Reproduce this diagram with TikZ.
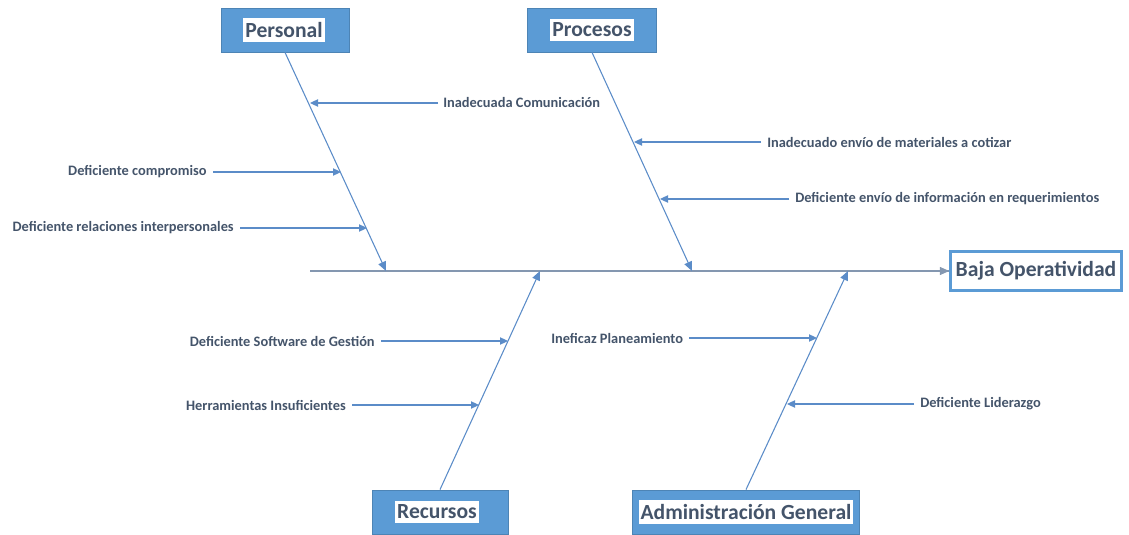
\documentclass[tikz,border=0pt]{standalone}
\usepackage{fontspec}
\setmainfont{Carlito}
\usetikzlibrary{arrows.meta,calc}
\definecolor{boxblue}{HTML}{5B9BD5}
\definecolor{lineblue}{HTML}{5B8CC8}
\definecolor{spinegray}{HTML}{8497B0}
\definecolor{txtblue}{HTML}{44546A}
\tikzset{
  catbox/.style={fill=boxblue, draw=boxblue!85!black, line width=0.6pt, minimum height=33pt, inner sep=0pt},
  cattext/.style={fill=white, text=txtblue, font=\bfseries\fontsize{16.2}{18}\selectfont, inner xsep=1.5pt, inner ysep=3pt},
  effect/.style={fill=white, draw=boxblue, line width=2.2pt, text=txtblue, font=\bfseries\fontsize{16.2}{18}\selectfont, minimum height=29pt, minimum width=128pt, inner xsep=1pt},
  lbl/.style={text=txtblue, font=\bfseries\fontsize{10.8}{12}\selectfont, inner sep=0pt},
  bone/.style={draw=lineblue, line width=0.8pt, -{Triangle[length=7pt,width=6pt]}},
  sub/.style={draw=lineblue, line width=0.8pt, -{Triangle[length=6pt,width=5.5pt]}},
  spine/.style={draw=spinegray, line width=1.6pt},
}
\begin{document}
\begin{tikzpicture}[x=0.75pt,y=-0.75pt]
\useasboundingbox (0,0) rectangle (1129,535);

% category boxes
\node[catbox, minimum width=96pt] (personal) at (285,30) {};
\node[cattext] (personalt) at (284,30) {Personal};
\node[catbox, minimum width=97pt] (procesos) at (592,30) {};
\node[cattext] (procesost) at (592,30) {Procesos};
\node[catbox, minimum width=102pt] (recursos) at (440,512) {};
\node[cattext] (recursost) at (437,512) {Recursos};
\node[catbox, minimum width=170pt] (admin) at (746,512) {};
\node[cattext] (admint) at (746,512) {Administración General};

% effect
\node[effect] (efecto) at (1036,271) {Baja Operatividad};

% spine
\coordinate (spst) at (310,271);
\draw[spine] (spst) -- (efecto.west);
\draw[bone, draw=spinegray] ($(efecto.west)+(-14,0)$) -- (efecto.west);

% bones, each ending on the spine
\coordinate (pEnd) at (386,271);
\coordinate (qEnd) at (692,271);
\coordinate (rEnd) at (540,271);
\coordinate (aEnd) at (848,271);
\draw[bone] (personal.south) -- (pEnd);
\draw[bone] (procesos.south) -- (qEnd);
\draw[bone] (recursos.north) -- (rEnd);
\draw[bone] (admin.north) -- (aEnd);

% causes: Personal
\node[lbl, anchor=west] (c1) at (443,103) {Inadecuada Comunicación};
\coordinate (c1e) at (310,103);
\draw[sub] ($(c1.west)+(-5,0)$) -- (c1e);
\node[lbl, anchor=east] (c2) at (207,172) {Deficiente compromiso};
\coordinate (c2e) at (341,172);
\draw[sub] ($(c2.east)+(6,0)$) -- (c2e);
\node[lbl, anchor=east] (c3) at (234,228) {Deficiente relaciones interpersonales};
\coordinate (c3e) at (367,228);
\draw[sub] ($(c3.east)+(6,0)$) -- (c3e);

% causes: Procesos
\node[lbl, anchor=west] (c4) at (767,142) {Inadecuado envío de materiales a cotizar};
\coordinate (c4e) at (634,142);
\draw[sub] ($(c4.west)+(-6,0)$) -- (c4e);
\node[lbl, anchor=west] (c5) at (795,199) {Deficiente envío de información en requerimientos};
\coordinate (c5e) at (660,199);
\draw[sub] ($(c5.west)+(-6,0)$) -- (c5e);

% causes: Recursos
\node[lbl, anchor=east] (c6) at (375,341) {Deficiente Software de Gestión};
\coordinate (c6e) at (508,341);
\draw[sub] ($(c6.east)+(6,0)$) -- (c6e);
\node[lbl, anchor=east] (c7) at (346,405) {Herramientas Insuficientes};
\coordinate (c7e) at (479,405);
\draw[sub] ($(c7.east)+(6,0)$) -- (c7e);

% causes: Administración General
\node[lbl, anchor=west] (c8) at (551,338) {Ineficaz Planeamiento};
\coordinate (c8e) at (817,338);
\draw[sub] ($(c8.east)+(6,0)$) -- (c8e);
\node[lbl, anchor=west] (c9) at (920,404) {Deficiente Liderazgo};
\coordinate (c9e) at (787,404);
\draw[sub] ($(c9.west)+(-6,0)$) -- (c9e);
\end{tikzpicture}
\end{document}
